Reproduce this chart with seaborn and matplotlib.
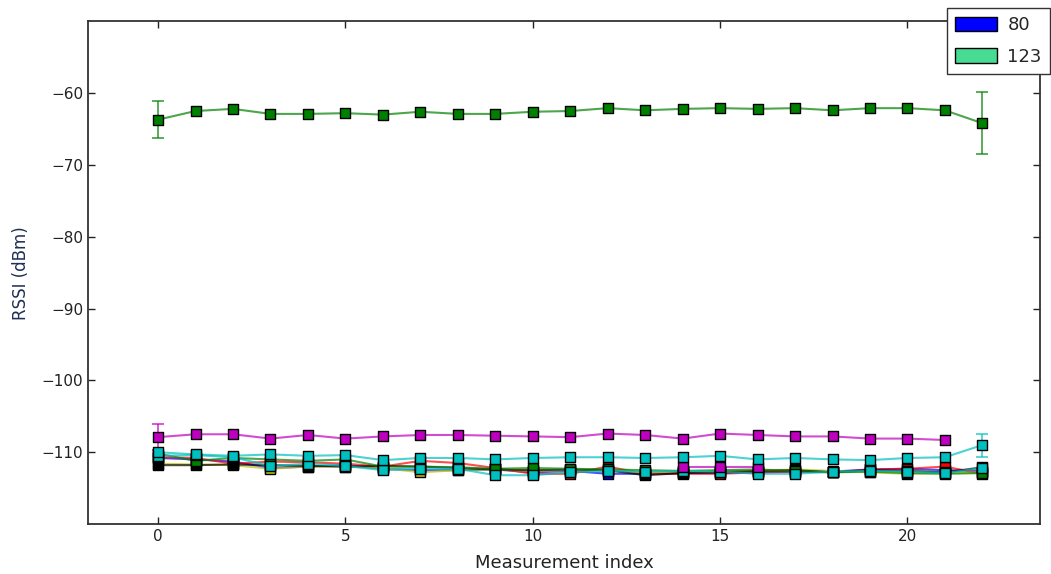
import numpy as np
import pandas as pd
import seaborn as sns
import matplotlib
matplotlib.use("Agg")
import matplotlib.pyplot as plt
from matplotlib.patches import Patch

# Measurement indices and per-node RSSI means (dBm)
idx = list(range(23))

rssi_blue = [-110.8, -111.0, -111.3, -112.2, -112.0, -111.8, -112.3, -112.5, -112.5, -112.4, -112.8, -112.6,
             -113.0, -113.0, -112.9, -112.9, -112.8, -112.7, -112.7, -112.4, -112.3, -112.5, -112.6]
rssi_green_top = [-63.7, -62.5, -62.2, -62.9, -62.9, -62.8, -63.0, -62.6, -62.9, -62.9, -62.6, -62.5,
                  -62.1, -62.4, -62.2, -62.1, -62.2, -62.1, -62.4, -62.1, -62.1, -62.4, -64.2]
rssi_red = [-110.7, -110.8, -111.6, -111.3, -111.4, -111.6, -112.0, -111.2, -111.5, -112.2, -113.0, -113.0,
            -112.0, -113.0, -113.0, -113.0, -112.8, -112.7, -112.8, -112.4, -112.3, -112.0, -113.0]
rssi_cyan_top = [-110.0, -110.3, -110.5, -110.3, -110.5, -110.4, -111.1, -110.8, -110.8, -111.0, -110.8, -110.7,
                 -110.7, -110.8, -110.7, -110.5, -111.0, -110.8, -111.0, -111.1, -110.8, -110.7, -109.0]
rssi_magenta = [-107.9, -107.5, -107.5, -108.1, -107.6, -108.1, -107.8, -107.6, -107.6, -107.7, -107.8, -107.9,
                -107.4, -107.6, -108.1, -107.4, -107.6, -107.8, -107.8, -108.1, -108.1, -108.3]
rssi_yellow = [-111.6, -111.7, -111.8, -112.3, -112.0, -112.0, -112.2, -112.8, -112.5, -112.4, -112.6, -112.5,
               -112.6, -112.8, -112.7, -112.6, -112.6, -112.4, -112.6, -112.8, -113.0, -112.9, -112.8]
rssi_black = [-111.8, -111.8, -111.7, -111.8, -111.9, -112.0, -111.9, -112.0, -112.2, -112.4, -112.5, -112.4,
              -112.5, -113.2, -112.9, -112.8, -112.6, -112.5, -112.8, -112.5, -112.6, -112.8, -112.1]
rssi_green_low = [-110.2, -111.2, -110.8, -111.0, -111.2, -111.0, -112.0, -112.0, -112.1, -112.3, -112.2, -112.3,
                  -112.4, -112.5, -112.6, -112.5, -112.4, -112.6, -112.8, -112.7, -112.9, -113.0, -112.9]
rssi_cyan_low = [-110.5, -110.4, -110.7, -111.9, -111.6, -111.9, -112.5, -112.3, -112.3, -113.2, -113.2, -112.8,
                 -112.6, -112.7, -112.6, -112.7, -113.0, -113.0, -112.7, -112.6, -112.7, -112.9, -112.2]
idx_magenta_low = [14, 15, 16]
rssi_magenta_low = [-112.0, -112.0, -112.0]

# Standard deviations (only the first / last readings have a visible spread)
err_green_top = {0: 2.6, 22: 4.3}
err_magenta = {0: 1.8}
err_cyan_top = {22: 1.6}

legend_labels = ["80", "123"]
legend_colors = ["#0000ff", "#48dc93"]

series = [
    ("blue", idx, rssi_blue, "#0000ff", {}),
    ("green_top", idx, rssi_green_top, "#008000", err_green_top),
    ("red", idx, rssi_red, "#ff0000", {}),
    ("yellow", idx, rssi_yellow, "#bfbf00", {}),
    ("black", idx, rssi_black, "#000000", {}),
    ("green_low", idx, rssi_green_low, "#008000", {}),
    ("cyan_low", idx, rssi_cyan_low, "#00bfbf", {}),
    ("magenta_low", idx_magenta_low, rssi_magenta_low, "#bf00bf", {}),
    ("cyan_top", idx, rssi_cyan_top, "#00bfbf", err_cyan_top),
    ("magenta", idx[:len(rssi_magenta)], rssi_magenta, "#bf00bf", err_magenta),
]

frames = []
for name, xs, ys, col, _ in series:
    frames.append(pd.DataFrame({"index": xs, "rssi": ys, "node": name}))
df = pd.concat(frames, ignore_index=True)

sns.set_theme(style="ticks")
plt.rcParams.update({
    "font.family": ["DejaVu Sans"],
    "xtick.direction": "in",
    "ytick.direction": "in",
    "xtick.top": True,
    "ytick.right": True,
    "xtick.major.size": 5,
    "ytick.major.size": 5,
    "axes.edgecolor": "#333333",
    "axes.linewidth": 1.3,
})

fig = plt.figure(figsize=(10.51, 5.74), dpi=100)
ax = fig.add_axes([0.0837, 0.087, 0.9063, 0.876])

for z, (name, xs, ys, col, errs) in enumerate(series):
    sub = df[df["node"] == name]
    sns.lineplot(data=sub, x="index", y="rssi", color=col, alpha=0.7, linewidth=1.5,
                 ax=ax, zorder=2 + z * 0.01, legend=False)
    if errs:
        ex = list(errs.keys())
        ey = [ys[xs.index(i)] for i in ex]
        ax.errorbar(ex, ey, yerr=list(errs.values()), fmt="none", ecolor=col, alpha=0.7,
                    elinewidth=1.3, capsize=4, capthick=1.3, zorder=2 + z * 0.01)
    sns.scatterplot(data=sub, x="index", y="rssi", color=col, marker="s", s=55,
                    edgecolor="black", linewidth=1.0, ax=ax, zorder=3 + z * 0.01, legend=False)

ax.set_xlim(-1.87, 23.55)
ax.set_ylim(-120, -50)
ax.set_xticks([0, 5, 10, 15, 20])
ax.set_yticks([-60, -70, -80, -90, -100, -110])
ax.tick_params(labelsize=11, colors="#222222", width=1)
ax.set_xlabel("Measurement index", fontsize=13, color="#222222", labelpad=7)
ax.set_ylabel("RSSI (dBm)", fontsize=12, color="#1f2f55", labelpad=8)

handles = [Patch(facecolor=c, edgecolor="black", linewidth=1.0) for c in legend_colors]
leg = fig.legend(handles, legend_labels, loc="upper left", bbox_to_anchor=(947 / 1051, 1 - 8 / 574),
                 borderaxespad=0, fontsize=13, frameon=True, fancybox=False, edgecolor="#333333",
                 framealpha=1, handlelength=2.3, handleheight=0.85, handletextpad=0.6,
                 borderpad=0.45, labelspacing=0.75)
leg.get_frame().set_linewidth(1.0)

fig.savefig("out.png", dpi=100)
